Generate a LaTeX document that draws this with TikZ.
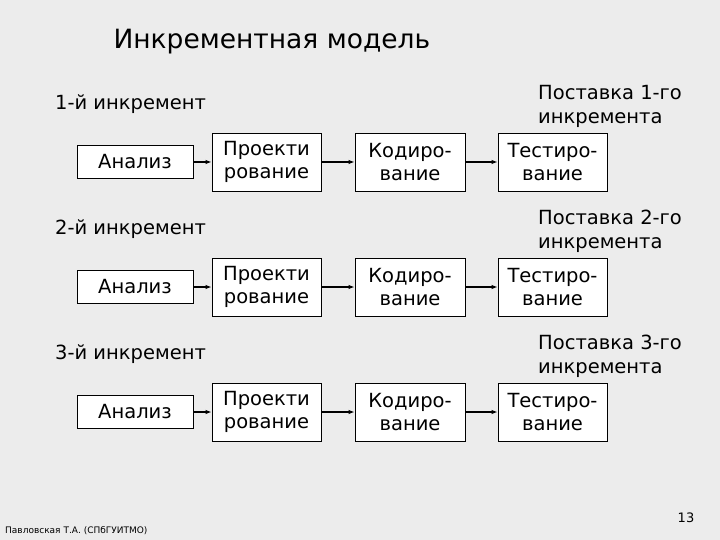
\documentclass[tikz,border=0pt]{standalone}
\usepackage{fontspec}
\setmainfont{DejaVu Sans}
\usetikzlibrary{arrows.meta}
\begin{document}
\begin{tikzpicture}[x=1pt,y=-1pt,
  box/.style={draw,line width=0.8pt,fill=white,inner sep=0pt,font=\fontsize{19.5}{23.5}\selectfont,align=center},
  lbl/.style={font=\fontsize{19.5}{24}\selectfont,align=left,inner sep=0pt},
  arr/.style={-{Latex[length=6pt,width=4.5pt]},line width=1.2pt}]
\fill[gray!15] (0,0) rectangle (720,540);
\useasboundingbox (0,0) rectangle (720,540);
\node[anchor=west,font=\fontsize{26.5}{30}\selectfont] (title) at (110,42) {Инкрементная модель};
\foreach \r/\n/\dy in {1/1/0,2/2/125,3/3/250}{
  \node[lbl,anchor=west] (inc\r) at (55,104+\dy) {\n-й инкремент};
  \node[lbl,anchor=west] (del\r) at (538,106+\dy) {Поставка \n-го\\инкремента};
  \node[box,minimum width=116,minimum height=33] (a\r) at (135,162+\dy) {Анализ};
  \node[box,minimum width=109,minimum height=58] (p\r) at (266.5,162+\dy) {Проекти\\рование};
  \node[box,minimum width=110,minimum height=58] (k\r) at (410,162+\dy) {Кодиро-\\вание};
  \node[box,minimum width=109,minimum height=58] (t\r) at (552.5,162+\dy) {Тестиро-\\вание};
  \draw[arr] (a\r) -- (p\r);
  \draw[arr] (p\r) -- (k\r);
  \draw[arr] (k\r) -- (t\r);
}
\node[anchor=west,font=\fontsize{9}{11}\selectfont,inner sep=0pt] (foot) at (5,531) {Павловская Т.А. (СПбГУИТМО)};
\node[anchor=center,font=\fontsize{13}{15}\selectfont,inner sep=0pt] (pg) at (686,518) {13};
\end{tikzpicture}
\end{document}
